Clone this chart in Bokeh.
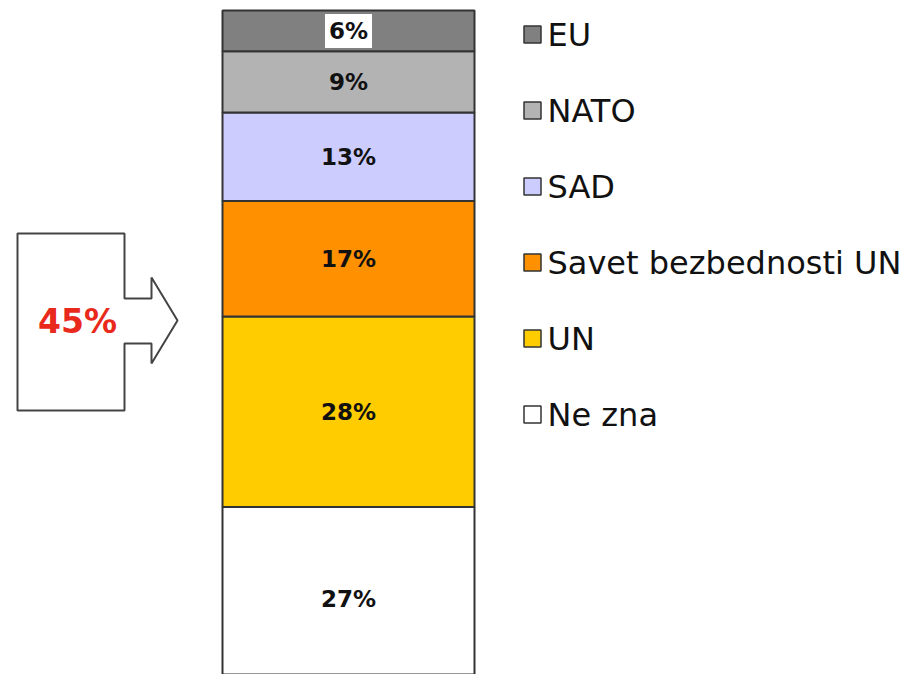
from bokeh.plotting import figure
from bokeh.models import Range1d, ColumnDataSource
from bokeh.core.properties import value
from bokeh.embed import file_html
from bokeh.resources import INLINE
import numpy as np

# ---- data (bottom to top of the stacked bar) ----
categories = ["Ne zna", "UN", "Savet bezbednosti UN", "SAD", "NATO", "EU"]
values = [27, 28, 17, 13, 9, 6]
colors = ["#ffffff", "#ffcc00", "#ff9100", "#ccccff", "#b3b3b3", "#808080"]
bracket_members = ["UN", "Savet bezbednosti UN"]

# ---- figure (x and 'px' range in canvas pixels, main y range in percent) ----
p = figure(width=903, height=674, output_backend="svg", toolbar_location=None,
           x_range=Range1d(0, 903), y_range=Range1d(2.35, 101.47),
           x_axis_type=None, y_axis_type=None, min_border=0)
p.extra_y_ranges = {"px": Range1d(674, 0)}
p.grid.visible = False
p.outline_line_color = None
p.background_fill_color = "white"
p.border_fill_color = "white"

vals = np.array(values, dtype=float)
tops = np.cumsum(vals)
bottoms = tops - vals
mids = (tops + bottoms) / 2
labels = [f"{v}%" for v in values]

src = ColumnDataSource(dict(cat=categories, top=tops, bottom=bottoms, mid=mids,
                            label=labels, color=colors))

BAR_X = 348
BAR_W = 252
p.vbar(x=BAR_X, width=BAR_W, top="top", bottom="bottom", source=src,
       fill_color="color", line_color="#333333", line_width=2)

# labels inside bars (EU label has a white box)
lab_font = value("DejaVu Sans")
normal = ColumnDataSource(dict(y=mids[:-1], t=labels[:-1]))
p.text(x=BAR_X, y="y", text="t", source=normal, text_align="center",
       text_baseline="middle", text_font=lab_font, text_font_style="bold",
       text_font_size="23px", text_color="#111111")
p.text(x=[BAR_X], y=[mids[-1]], text=[labels[-1]], text_align="center",
       text_baseline="middle", text_font=lab_font, text_font_style="bold",
       text_font_size="23px", text_color="#111111",
       background_fill_color="white", padding=4)

# ---- block arrow with total ----
arrow_x = [17, 124, 124, 151, 151, 177, 151, 151, 124, 124, 17]
arrow_y = [233, 233, 298, 298, 277, 320, 363, 343, 343, 410, 410]
p.patch(arrow_x, arrow_y, y_range_name="px", fill_color="white",
        line_color="#444444", line_width=2)
total = sum(v for c, v in zip(categories, values) if c in bracket_members)
p.text(x=[77], y=[321], text=[f"{total}%"], y_range_name="px",
       text_align="center", text_baseline="middle", text_font=lab_font,
       text_font_style="bold", text_font_size="33px", text_color="#e8291c")

# ---- legend (top to bottom) ----
leg_cats = categories[::-1]
leg_cols = colors[::-1]
leg_y = [34 + 76 * i for i in range(len(leg_cats))]
p.scatter(x=[532] * len(leg_cats), y=leg_y, y_range_name="px", marker="square",
          size=17, fill_color=leg_cols, line_color="#333333", line_width=1.5)
p.text(x=[547] * len(leg_cats), y=leg_y, text=leg_cats, y_range_name="px",
       text_align="left", text_baseline="middle", text_font=lab_font,
       text_font_size="32px", text_color="#111111")

open("out.html", "w").write(file_html(p, INLINE))
